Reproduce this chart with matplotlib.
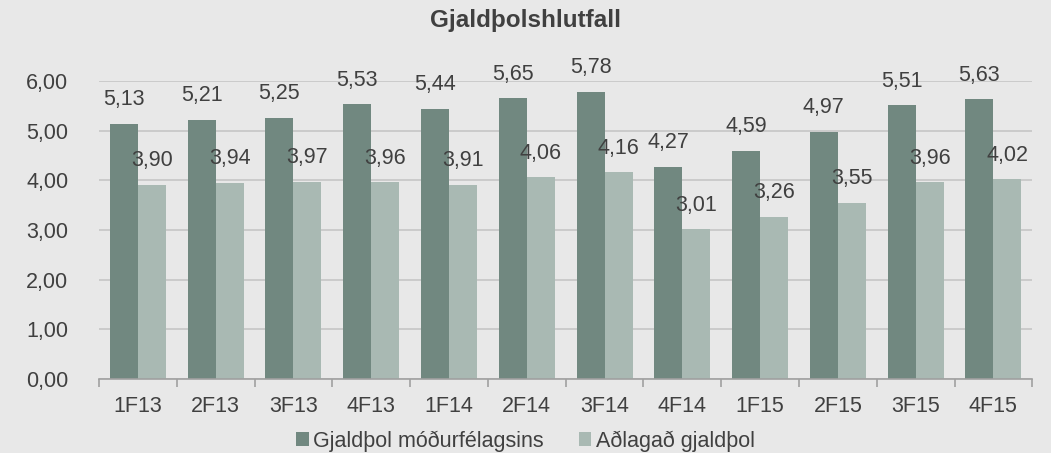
import numpy as np
import matplotlib
matplotlib.use("Agg")
import matplotlib.pyplot as plt

plt.rcParams['font.family'] = ['Liberation Sans', 'DejaVu Sans']

# Gögn
categories = ['1F13', '2F13', '3F13', '4F13', '1F14', '2F14',
              '3F14', '4F14', '1F15', '2F15', '3F15', '4F15']
modurfelag = [5.13, 5.21, 5.25, 5.53, 5.44, 5.65, 5.78, 4.27, 4.59, 4.97, 5.51, 5.63]
adlagad = [3.90, 3.94, 3.97, 3.96, 3.91, 4.06, 4.16, 3.01, 3.26, 3.55, 3.96, 4.02]
series_names = ['Gjaldþol móðurfélagsins', 'Aðlagað gjaldþol']

BG = '#e8e8e8'
DARK = '#718880'
LIGHT = '#a9b9b3'
TXT = '#404040'
FS = 15.5

fig = plt.figure(figsize=(10.51, 4.53), dpi=100, facecolor=BG)
ax = fig.add_axes([0.0942, 0.1634, 0.888, 0.6578], facecolor=BG)

x = np.arange(len(categories))
w = 0.36
b1 = ax.bar(x - w / 2, modurfelag, w, color=DARK, label=series_names[0], zorder=3)
b2 = ax.bar(x + w / 2, adlagad, w, color=LIGHT, label=series_names[1], zorder=3)

def fmt(v):
    return f"{v:.2f}".replace('.', ',')

for bars, vals in ((b1, modurfelag), (b2, adlagad)):
    for rect, v in zip(bars, vals):
        ax.annotate(fmt(v), (rect.get_x() + rect.get_width() / 2, v),
                    xytext=(0, 17.5), textcoords='offset points',
                    ha='center', va='center', fontsize=FS, color=TXT, zorder=4)

ax.set_ylim(0, 6)
ax.set_xlim(-0.5, len(categories) - 0.5)
ax.set_yticks(np.arange(0, 7, 1))
ax.set_yticklabels([fmt(v) for v in np.arange(0, 7, 1)])
ax.yaxis.grid(True, color='#c6c6c6', linewidth=1.2, zorder=0)
ax.tick_params(axis='y', length=0, labelsize=FS, labelcolor=TXT, pad=22)

ax.set_xticks(x)
ax.set_xticklabels(categories)
ax.set_xticks(np.arange(-0.5, len(categories), 1), minor=True)
ax.tick_params(axis='x', which='major', length=0, labelsize=FS, labelcolor=TXT, pad=12)
ax.tick_params(axis='x', which='minor', length=6, color='#a0a0a0', width=1.2)

for s in ('top', 'right', 'left'):
    ax.spines[s].set_visible(False)
ax.spines['bottom'].set_color('#a0a0a0')
ax.spines['bottom'].set_linewidth(1.2)
ax.spines['bottom'].set_zorder(5)

fig.text(0.5, 0.955, 'Gjaldþolshlutfall', ha='center', va='center',
         fontsize=17.5, fontweight='bold', color=TXT)

fig.legend(handles=[b1, b2], labels=series_names, loc='lower center',
           bbox_to_anchor=(0.5, -0.04), ncol=2, frameon=False, fontsize=FS,
           labelcolor=TXT, handlelength=0.6, handleheight=0.6,
           handletextpad=0.2, columnspacing=1.6)

fig.savefig('out.png', dpi=100, facecolor=BG)
